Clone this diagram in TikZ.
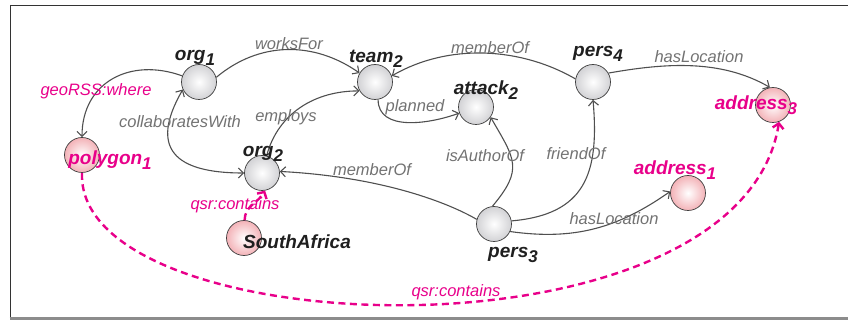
\documentclass[tikz,border=0pt]{standalone}
\usepackage{fontspec}
\setmainfont{Liberation Sans}
\usetikzlibrary{arrows.meta}

\definecolor{edgegray}{HTML}{4F4F4F}
\definecolor{lblgray}{HTML}{727272}
\definecolor{geomag}{HTML}{E8008A}
\definecolor{ballgray}{HTML}{D2D2D5}
\definecolor{ballpink}{HTML}{F3B2B7}

% lowered index digit used in the entity names
\newcommand{\ix}[1]{\raisebox{-5pt}{\fontsize{17}{17}\selectfont #1}}

\tikzset{
  ent/.style={circle, draw=black!75, line width=0.7pt, minimum size=35pt,
    inner sep=0pt, inner color=white, outer color=ballgray},
  geo/.style={ent, outer color=ballpink},
  ename/.style={font=\fontsize{19}{21}\selectfont\bfseries\itshape,
    text=black!88, inner sep=0pt, anchor=base},
  gname/.style={ename, text=geomag},
  rel/.style={font=\fontsize{16.5}{18}\selectfont\itshape, text=lblgray,
    inner sep=0pt, anchor=base},
  grel/.style={rel, text=geomag},
  link/.style={draw=edgegray, line width=1.1pt,
    -{Straight Barb[length=5pt,width=10pt]}},
  glink/.style={draw=geomag, line width=2.4pt, dash pattern=on 7pt off 4.5pt,
    -{Straight Barb[length=5pt,width=11pt]}},
  frameline/.style={draw=black!80, line width=1pt}
}

\begin{document}
\begin{tikzpicture}[x=1pt, y=1pt]
\useasboundingbox (0,0) rectangle (848,-320);

% frame
\draw[frameline] (10,-5.5) -- (848,-5.5);
\draw[frameline] (10,-5) -- (10,-318);
\draw[draw=black!45, line width=2.5pt] (9.5,-318.6) -- (848,-318.6);

% entities
\node[ent] (org1)    at (199,-82)  {};
\node[ent] (team2)   at (375,-82)  {};
\node[ent] (attack2) at (476,-107) {};
\node[ent] (pers4)   at (593,-82)  {};
\node[ent] (org2)    at (262,-173) {};
\node[ent] (pers3)   at (494,-224) {};
\node[geo] (address3) at (773,-105) {};
\node[geo] (polygon1) at (82,-155)  {};
\node[geo] (southafrica) at (244,-238) {};
\node[geo] (address1) at (688,-193) {};

% relations
\draw[link] (org1.15) to[out=40, in=145] (team2.150);
\draw[link] (org1.160) to[out=160, in=90, looseness=1.2] (polygon1.90);
\draw[link, {Straight Barb[length=5pt,width=10pt]}-{Straight Barb[length=5pt,width=10pt]}]
  (org1.205) to[out=240, in=180, looseness=1.7] (org2.180);
\draw[link] (org2.75) to[out=75, in=180] (team2.210);
\draw[link] (team2.280) to[out=270, in=200] (attack2.200);
\draw[link] (pers4.170) to[out=150, in=30, looseness=0.9] (team2.20);
\draw[link] (pers4.30) to[out=10, in=150, looseness=0.9] (address3.100);
\draw[link] (pers3.165) to[out=150, in=-3, out looseness=0.5, in looseness=1.2] (org2.5);
\draw[link] (pers3.95) to[out=50, in=-60, looseness=1.4] (attack2.-35);
\draw[link] (pers3.10) to[out=5, in=-85, looseness=1.3] (pers4.270);
\draw[link] (pers3.-25) to[out=-8, in=215] (address1.175);
\draw[glink] (southafrica.88) to[out=90, in=240] (org2.280);
\draw[glink] (polygon1.270) .. controls +(-7,-172) and +(-40,-248) .. (address3.-70);

% relation labels
\node[rel]  (l-worksfor)  at (289,-50)  {worksFor};
\node[grel] (l-georss)    at (96,-96)   {geoRSS:where};
\node[rel]  (l-collab)    at (180,-128) {collaboratesWith};
\node[rel]  (l-employs)   at (286,-122) {employs};
\node[rel]  (l-planned)   at (415,-112) {planned};
\node[rel]  (l-member4)   at (490,-54)  {memberOf};
\node[rel]  (l-loc4)      at (699,-63)  {hasLocation};
\node[rel]  (l-author)    at (485,-162) {isAuthorOf};
\node[rel]  (l-friend)    at (576,-160) {friendOf};
\node[rel]  (l-member3)   at (372,-176) {memberOf};
\node[rel]  (l-loc3)      at (614,-225) {hasLocation};
\node[grel] (l-contains1) at (235,-210) {qsr:contains};
\node[grel] (l-contains2) at (456,-296) {qsr:contains};

% entity names
\node[ename] (n-org1)    at (195,-61)  {org\ix{1}};
\node[ename] (n-team2)   at (376,-63)  {team\ix{2}};
\node[ename] (n-attack2) at (486,-95)  {attack\ix{2}};
\node[ename] (n-pers4)   at (598,-57)  {pers\ix{4}};
\node[ename] (n-org2)    at (263,-157) {org\ix{2}};
\node[ename] (n-pers3)   at (513,-258) {pers\ix{3}};
\node[ename] (n-sa)      at (297,-249) {SouthAfrica};
\node[gname] (n-addr3)   at (756,-110) {address\ix{3}};
\node[gname] (n-poly1)   at (110,-165) {polygon\ix{1}};
\node[gname] (n-addr1)   at (675,-175) {address\ix{1}};
\end{tikzpicture}
\end{document}
